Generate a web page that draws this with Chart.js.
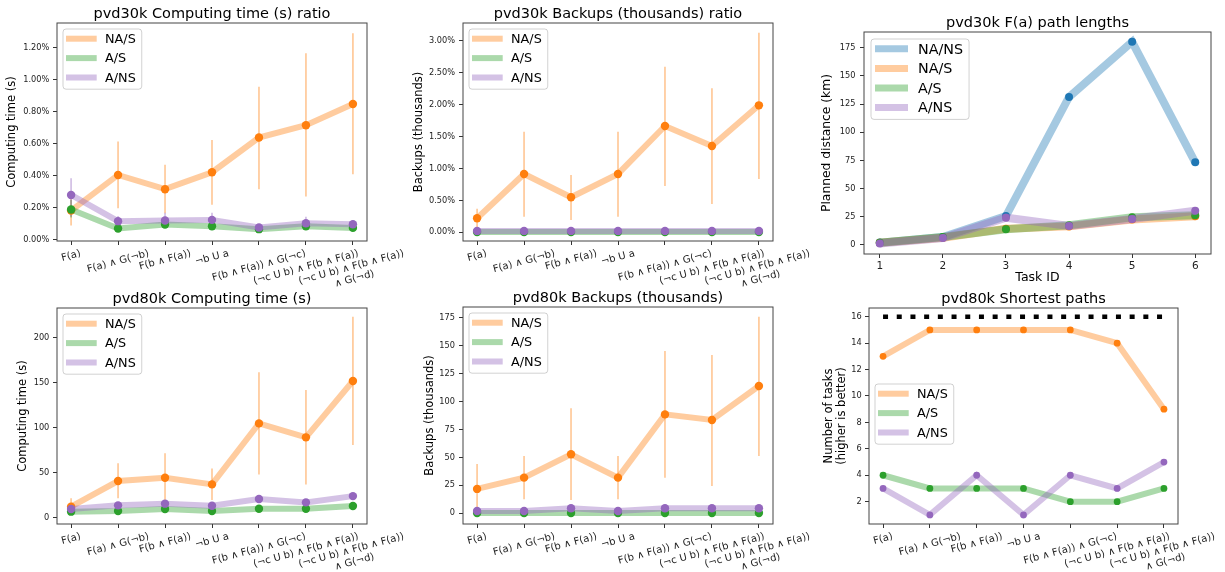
<!DOCTYPE html>
<html>
<head>
<meta charset="utf-8">
<script src="https://cdn.jsdelivr.net/npm/chart.js@4.4.0/dist/chart.umd.min.js"></script>
<style>
    body { margin: 0; background: #fff; }
    #wrap { position: relative; width: 1225px; height: 572px; }
    #wrap canvas { position: absolute; left: 0; top: 0; }
</style>
</head>
<body>
<div id="wrap">
    <canvas id="c1" width="1225" height="572"></canvas>
    <canvas id="c2" width="1225" height="572"></canvas>
    <canvas id="c3" width="1225" height="572"></canvas>
    <canvas id="c4" width="1225" height="572"></canvas>
    <canvas id="c5" width="1225" height="572"></canvas>
    <canvas id="c6" width="1225" height="572"></canvas>
</div>
<script>
// categories
var formulas = ['F(a)', 'F(a) ∧ G(¬b)', 'F(b ∧ F(a))', '¬b U a', 'F(b ∧ F(a)) ∧ G(¬c)',
    '(¬c U b) ∧ F(b ∧ F(a))', '(¬c U b) ∧ F(b ∧ F(a))\n∧ G(¬d)'];
var formulaIdx = [0, 1, 2, 3, 4, 5, 6];
var taskIds = [1, 2, 3, 4, 5, 6];

// pvd30k computing time ratio (%)
var p1NAS = [0.183, 0.406, 0.317, 0.423, 0.640, 0.717, 0.850];
var p1NASLo = [0.09, 0.198, 0.167, 0.219, 0.317, 0.271, 0.41];
var p1NASHi = [0.27, 0.615, 0.469, 0.625, 0.958, 1.167, 1.292];
var p1AS = [0.19, 0.071, 0.096, 0.085, 0.067, 0.085, 0.075];
var p1ASLo = [0.14, 0.06, 0.08, 0.07, 0.055, 0.07, 0.065];
var p1ASHi = [0.25, 0.085, 0.11, 0.10, 0.08, 0.10, 0.088];
var p1ANS = [0.281, 0.117, 0.121, 0.125, 0.077, 0.104, 0.098];
var p1ANSLo = [0.146, 0.085, 0.075, 0.085, 0.065, 0.07, 0.08];
var p1ANSHi = [0.385, 0.15, 0.17, 0.17, 0.095, 0.145, 0.12];
var p1Ticks = [0, 0.2, 0.4, 0.6, 0.8, 1.0, 1.2];

// pvd30k backups ratio (%)
var p2NAS = [0.22, 0.915, 0.549, 0.915, 1.667, 1.354, 1.991];
var p2NASLo = [0.08, 0.246, 0.193, 0.246, 0.726, 0.444, 0.836];
var p2NASHi = [0.37, 1.578, 0.899, 1.578, 2.597, 2.258, 3.13];
var p2AS = [0.004, 0.004, 0.004, 0.004, 0.004, 0.004, 0.004];
var p2ANS = [0.022, 0.022, 0.022, 0.022, 0.022, 0.022, 0.022];
var p2Ticks = [0, 0.5, 1.0, 1.5, 2.0, 2.5, 3.0];

// pvd30k F(a) path lengths (km)
var p3NANS = [2.1, 7.1, 25.7, 131.3, 180.2, 73.3];
var p3NAS = [2, 6.5, 14.5, 16.5, 22.5, 25.5];
var p3AS = [2, 7, 13.9, 17.5, 24.5, 26.3];
var p3ANS = [1.3, 6.2, 24.2, 16.8, 23, 30.4];
var p3Ticks = [0, 25, 50, 75, 100, 125, 150, 175];

// pvd80k computing time (s)
var p4NAS = [12.2, 40.7, 44.4, 37, 104.8, 89.3, 151.9];
var p4NASLo = [5, 21.5, 17, 19.6, 48, 37, 80.7];
var p4NASHi = [21.5, 60.4, 71.5, 54.8, 161.5, 141.9, 223.3];
var p4AS = [6.7, 7.4, 9.6, 7.4, 10, 10, 13];
var p4ANS = [9.6, 13.7, 15.6, 13.3, 20.7, 17, 24];
var p4Ticks = [0, 50, 100, 150, 200];

// pvd80k backups (thousands)
var p5NAS = [21.8, 31.9, 52.8, 31.9, 88.5, 83.5, 113.9];
var p5NASLo = [0, 12.5, 11.9, 12.5, 31.9, 24.4, 51.3];
var p5NASHi = [44.1, 51.3, 93.9, 51.3, 145.2, 141.6, 175.9];
var p5AS = [0.3, 0.3, 0.3, 0.3, 0.3, 0.3, 0.3];
var p5ANS = [2.1, 2.1, 4.5, 2, 4.5, 4.5, 4.5];
var p5Ticks = [0, 25, 50, 75, 100, 125, 150, 175];

// pvd80k shortest paths (number of tasks)
var p6Total = [16, 16, 16, 16, 16, 16, 16];
var p6NAS = [13, 15, 15, 15, 15, 14, 9];
var p6AS = [4, 3, 3, 3, 2, 2, 3];
var p6ANS = [3, 1, 4, 1, 4, 3, 5];
var p6Ticks = [2, 4, 6, 8, 10, 12, 14, 16];

var BLUE = '31,119,180', ORANGE = '255,127,14', GREEN = '44,160,44', PURPLE = '148,103,189';

Chart.defaults.font.family = '"DejaVu Sans", sans-serif';
Chart.defaults.color = '#222';

function series(label, rgb, ys, xs, lw, r, extra) {
    var d = {
        label: label,
        data: ys.map(function(v, i) { return { x: xs[i], y: v }; }),
        borderColor: 'rgba(' + rgb + ',0.4)',
        borderWidth: lw,
        pointRadius: r,
        pointBorderWidth: 0,
        pointBackgroundColor: 'rgb(' + rgb + ')',
        pointBorderColor: 'rgb(' + rgb + ')',
        tension: 0
    };
    return Object.assign(d, extra || {});
}

// axes box (all four spines)
var frame = {
    id: 'frame',
    afterDatasetsDraw: function(chart) {
        var a = chart.chartArea, ctx = chart.ctx;
        ctx.save();
        ctx.strokeStyle = '#444';
        ctx.lineWidth = 1;
        ctx.strokeRect(a.left, a.top, a.right - a.left, a.bottom - a.top);
        ctx.restore();
    }
};

// vertical error bars from errLow / errHigh
var errBars = {
    id: 'errBars',
    beforeDatasetsDraw: function(chart) {
        var ctx = chart.ctx, xs = chart.scales.x, ys = chart.scales.y;
        chart.data.datasets.forEach(function(d) {
            if (!d.errLow) return;
            ctx.save();
            ctx.strokeStyle = d.borderColor;
            ctx.lineWidth = 1.8;
            d.errLow.forEach(function(lo, i) {
                var x = xs.getPixelForValue(d.data[i].x);
                ctx.beginPath();
                ctx.moveTo(x, ys.getPixelForValue(lo));
                ctx.lineTo(x, ys.getPixelForValue(d.errHigh[i]));
                ctx.stroke();
            });
            ctx.restore();
        });
    }
};

// rotated, centred category labels (matplotlib style)
var catLabels = {
    id: 'catLabels',
    afterDraw: function(chart, args, o) {
        var ctx = chart.ctx, xs = chart.scales.x, a = chart.chartArea;
        var ang = 15 * Math.PI / 180, lh = o.size * 1.2;
        ctx.save();
        ctx.font = o.size + 'px "DejaVu Sans"';
        ctx.fillStyle = '#222';
        ctx.textAlign = 'center';
        ctx.textBaseline = 'middle';
        o.labels.forEach(function(lab, i) {
            var lines = lab.split('\n');
            var w = Math.max.apply(null, lines.map(function(l) { return ctx.measureText(l).width; }));
            var bh = w * Math.sin(ang) + lines.length * lh * Math.cos(ang);
            ctx.save();
            ctx.translate(xs.getPixelForValue(i), a.bottom + o.pad + bh / 2);
            ctx.rotate(-ang);
            lines.forEach(function(l, j) {
                ctx.fillText(l, 0, (j - (lines.length - 1) / 2) * lh);
            });
            ctx.restore();
        });
        ctx.restore();
    }
};

// framed legend inside the axes
var boxLegend = {
    id: 'boxLegend',
    afterDraw: function(chart, args, o) {
        var ctx = chart.ctx, a = chart.chartArea;
        var items = chart.data.datasets.filter(function(d) { return !d.noLegend; });
        ctx.save();
        ctx.font = o.size + 'px "DejaVu Sans"';
        var tw = Math.max.apply(null, items.map(function(d) { return ctx.measureText(d.label).width; }));
        var x = a.left + o.dx, y = a.top + o.dy;
        var w = o.padL + o.handle + o.gap + tw + 6, h = items.length * o.row + 2;
        ctx.beginPath();
        ctx.roundRect(x, y, w, h, 3);
        ctx.fillStyle = 'rgba(255,255,255,0.8)';
        ctx.fill();
        ctx.strokeStyle = 'rgba(0,0,0,0.18)';
        ctx.lineWidth = 1;
        ctx.stroke();
        ctx.textBaseline = 'middle';
        items.forEach(function(d, i) {
            var cy = y + o.row * (i + 0.5);
            ctx.beginPath();
            ctx.strokeStyle = d.borderColor;
            ctx.lineWidth = o.lw;
            ctx.moveTo(x + o.padL, cy);
            ctx.lineTo(x + o.padL + o.handle, cy);
            ctx.stroke();
            ctx.fillStyle = '#000';
            ctx.fillText(d.label, x + o.padL + o.handle + o.gap, cy + 1);
        });
        ctx.restore();
    }
};

var pct = function(v) { return v.toFixed(2) + '%'; };
var plain = function(v) { return v; };
var smallLegend = { dx: 6, dy: 6, size: 12.8, handle: 30.7, gap: 8.3, row: 19.4, lw: 6, padL: 3 };

function panel(id, o) {
    o.datasets.forEach(function(d, i) { d.order = -i; });
    var xAxis = {
        type: 'linear', min: o.xMin, max: o.xMax, bounds: 'data',
        afterBuildTicks: function(s) { s.ticks = o.xTicks.map(function(v) { return { value: v }; }); },
        afterFit: function(s) { s.height = o.xH; s.paddingLeft = 0; s.paddingRight = 0; },
        ticks: { display: false },
        grid: { drawOnChartArea: false, tickLength: 4, color: '#333' },
        border: { display: false }
    };
    if (o.xTitle) {
        xAxis.ticks = { display: true, font: { size: 10.5 }, padding: 2, autoSkip: false, maxRotation: 0, callback: plain };
        xAxis.title = { display: true, text: o.xTitle, color: '#000', font: { size: 12.5 }, padding: { top: 0, bottom: 2.5 } };
    }
    return new Chart(document.getElementById(id), {
        type: 'line',
        data: { datasets: o.datasets },
        plugins: [frame, errBars, catLabels, boxLegend],
        options: {
            responsive: false,
            animation: false,
            events: [],
            layout: {
                padding: { left: o.box.L - o.yW, right: 1225 - o.box.R, top: o.box.T - 22, bottom: 572 - o.box.B - o.xH }
            },
            plugins: {
                legend: { display: false },
                tooltip: { enabled: false },
                title: {
                    display: true, text: o.title, fullSize: false, color: '#000',
                    font: { size: 14.5, weight: 'normal', lineHeight: 1.2 },
                    padding: { top: 4.5, bottom: 0.1 }
                },
                boxLegend: o.legend,
                catLabels: o.xTitle ? false : { labels: formulas, size: 10, pad: 6.5 }
            },
            scales: {
                x: xAxis,
                y: {
                    type: 'linear', min: o.yMin, max: o.yMax, bounds: 'data',
                    afterBuildTicks: function(s) { s.ticks = o.yTicks.map(function(v) { return { value: v }; }); },
                    afterFit: function(s) { s.width = o.yW; s.paddingTop = 0; s.paddingBottom = 0; },
                    ticks: { font: { size: 8.2 }, color: '#222', padding: o.yPad, autoSkip: false, callback: o.yFmt },
                    grid: { drawOnChartArea: false, tickLength: 4, color: '#333' },
                    border: { display: false },
                    title: {
                        display: true, text: o.yTitle, color: '#000',
                        font: { size: o.yTitleSize || 11.5, lineHeight: o.yTitleLH || 1.2 },
                        padding: { top: o.yTitlePad, bottom: 0 }
                    }
                }
            }
        }
    });
}

panel('c1', {
    box: { L: 57, R: 367, T: 23, B: 241 }, yW: 57, xH: 40,
    title: 'pvd30k Computing time (s) ratio', yTitle: 'Computing time (s)', yTitlePad: 5.1,
    xMin: -0.3, xMax: 6.3, xTicks: formulaIdx,
    yMin: -0.007, yMax: 1.356, yTicks: p1Ticks, yFmt: pct, yPad: 3.7,
    legend: smallLegend,
    datasets: [
        series('NA/S', ORANGE, p1NAS, formulaIdx, 6, 4.2, { errLow: p1NASLo, errHigh: p1NASHi }),
        series('A/S', GREEN, p1AS, formulaIdx, 6, 4.2, { errLow: p1ASLo, errHigh: p1ASHi }),
        series('A/NS', PURPLE, p1ANS, formulaIdx, 6, 4.2, { errLow: p1ANSLo, errHigh: p1ANSHi })
    ]
});

panel('c2', {
    box: { L: 463, R: 773, T: 23, B: 241 }, yW: 58, xH: 40,
    title: 'pvd30k Backups (thousands) ratio', yTitle: 'Backups (thousands)', yTitlePad: 7.1,
    xMin: -0.3, xMax: 6.3, xTicks: formulaIdx,
    yMin: -0.136, yMax: 3.282, yTicks: p2Ticks, yFmt: pct, yPad: 4,
    legend: smallLegend,
    datasets: [
        series('NA/S', ORANGE, p2NAS, formulaIdx, 6, 4.2, { errLow: p2NASLo, errHigh: p2NASHi }),
        series('A/S', GREEN, p2AS, formulaIdx, 6, 4.2),
        series('A/NS', PURPLE, p2ANS, formulaIdx, 6, 4.2)
    ]
});

panel('c3', {
    box: { L: 864, R: 1211, T: 32, B: 254 }, yW: 54, xH: 34,
    title: 'pvd30k F(a) path lengths', yTitle: 'Planned distance (km)', yTitlePad: 9.9, yTitleSize: 12.3,
    xTitle: 'Task ID', xMin: 0.75, xMax: 6.25, xTicks: taskIds,
    yMin: -8, yMax: 188.9, yTicks: p3Ticks, yFmt: plain, yPad: 4.5,
    legend: { dx: 7, dy: 7, size: 14.3, handle: 33, gap: 10, row: 19.6, lw: 7, padL: 4 },
    datasets: [
        series('NA/NS', BLUE, p3NANS, taskIds, 8, 4),
        series('NA/S', ORANGE, p3NAS, taskIds, 8, 4),
        series('A/S', GREEN, p3AS, taskIds, 8, 4),
        series('A/NS', PURPLE, p3ANS, taskIds, 8, 4)
    ]
});

panel('c4', {
    box: { L: 57, R: 367, T: 308, B: 524 }, yW: 57, xH: 40,
    title: 'pvd80k Computing time (s)', yTitle: 'Computing time (s)', yTitlePad: 16.1,
    xMin: -0.3, xMax: 6.3, xTicks: formulaIdx,
    yMin: -7, yMax: 233, yTicks: p4Ticks, yFmt: plain, yPad: 3.7,
    legend: smallLegend,
    datasets: [
        series('NA/S', ORANGE, p4NAS, formulaIdx, 6, 4.2, { errLow: p4NASLo, errHigh: p4NASHi }),
        series('A/S', GREEN, p4AS, formulaIdx, 6, 4.2),
        series('A/NS', PURPLE, p4ANS, formulaIdx, 6, 4.2)
    ]
});

panel('c5', {
    box: { L: 463, R: 773, T: 307, B: 524 }, yW: 58, xH: 40,
    title: 'pvd80k Backups (thousands)', yTitle: 'Backups (thousands)', yTitlePad: 18.1,
    xMin: -0.3, xMax: 6.3, xTicks: formulaIdx,
    yMin: -9.6, yMax: 184.6, yTicks: p5Ticks, yFmt: plain, yPad: 4,
    legend: smallLegend,
    datasets: [
        series('NA/S', ORANGE, p5NAS, formulaIdx, 6, 4.2, { errLow: p5NASLo, errHigh: p5NASHi }),
        series('A/S', GREEN, p5AS, formulaIdx, 6, 4.2),
        series('A/NS', PURPLE, p5ANS, formulaIdx, 6, 4.2)
    ]
});

panel('c6', {
    box: { L: 869, R: 1178, T: 308, B: 524 }, yW: 59, xH: 40,
    title: 'pvd80k Shortest paths', yTitle: ['Number of tasks', '(higher is better)'],
    yTitlePad: 12.7, yTitleLH: 1.1,
    xMin: -0.3, xMax: 6.3, xTicks: formulaIdx,
    yMin: 0.31, yMax: 16.66, yTicks: p6Ticks, yFmt: plain, yPad: 3.3,
    legend: { dx: 6, dy: 76, size: 12.8, handle: 30.7, gap: 8.3, row: 19.4, lw: 6, padL: 3 },
    datasets: [
        {
            label: 'Total', noLegend: true,
            data: p6Total.map(function(v, i) { return { x: formulaIdx[i], y: v }; }),
            borderColor: '#000', borderWidth: 4.5, borderDash: [5, 8.7], borderCapStyle: 'butt',
            pointRadius: 0, tension: 0
        },
        series('NA/S', ORANGE, p6NAS, formulaIdx, 6, 3.4),
        series('A/S', GREEN, p6AS, formulaIdx, 6, 3.4),
        series('A/NS', PURPLE, p6ANS, formulaIdx, 6, 3.4)
    ]
});
</script>
</body>
</html>
